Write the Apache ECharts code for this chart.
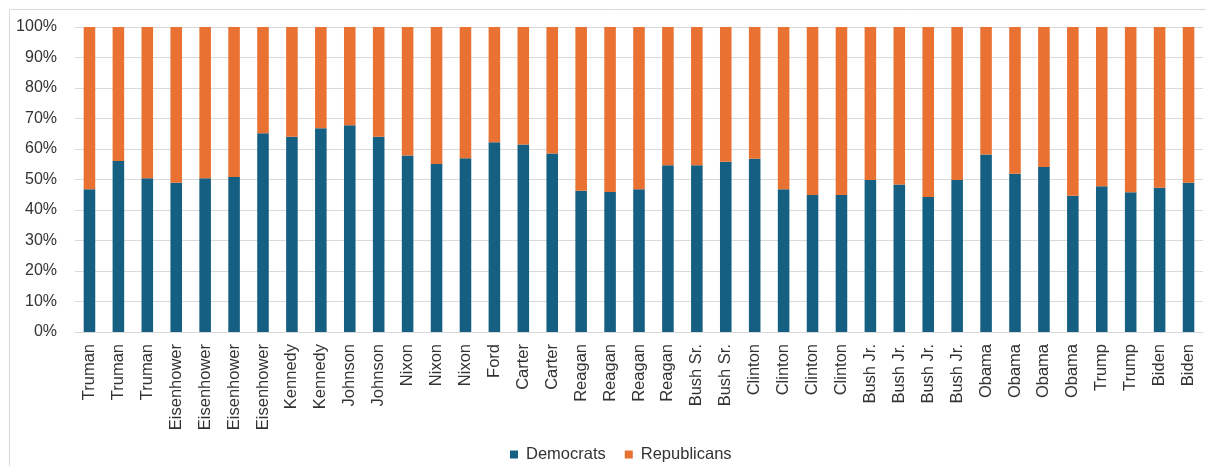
<!DOCTYPE html>
<html>
<head>
<meta charset="utf-8">
<script src="https://cdn.jsdelivr.net/npm/echarts@6/dist/echarts.min.js"></script>
<style>
html,body{margin:0;padding:0;background:#fff;}
#chart{width:1206px;height:466px;}
</style>
</head>
<body>
<div id="chart"></div>
<script>
const categories = ["Truman","Truman","Truman","Eisenhower","Eisenhower","Eisenhower","Eisenhower","Kennedy","Kennedy","Johnson","Johnson","Nixon","Nixon","Nixon","Ford","Carter","Carter","Reagan","Reagan","Reagan","Reagan","Bush Sr.","Bush Sr.","Clinton","Clinton","Clinton","Clinton","Bush Jr.","Bush Jr.","Bush Jr.","Bush Jr.","Obama","Obama","Obama","Obama","Trump","Trump","Biden","Biden"];
const democrats = [46.8,56.1,50.4,48.9,50.4,50.8,65.2,64.0,66.8,67.8,64.0,57.9,55.1,57.0,62.2,61.5,58.5,46.3,45.9,46.8,54.7,54.7,55.8,56.8,46.8,44.9,44.9,49.8,48.4,44.3,49.8,58.2,51.9,54.1,44.7,47.8,45.8,47.3,48.9];
const republicans = [53.2,43.9,49.6,51.1,49.6,49.2,34.8,36.0,33.2,32.2,36.0,42.1,44.9,43.0,37.8,38.5,41.5,53.7,54.1,53.2,45.3,45.3,44.2,43.2,53.2,55.1,55.1,50.2,51.6,55.7,50.2,41.8,48.1,45.9,55.3,52.2,54.2,52.7,51.1];
const yTicks = {min: 0, max: 100, interval: 10};

const chart = echarts.init(document.getElementById('chart'), null, {renderer: 'canvas'});
const font = '"Liberation Sans", Arial, sans-serif';
chart.setOption({
  animation: false,
  backgroundColor: '#fff',
  graphic: [{
    type: 'rect',
    shape: {x: 9.5, y: 9.5, width: 1220, height: 480},
    style: {fill: 'none', stroke: '#d9d9d9', lineWidth: 1},
    silent: true
  }],
  grid: {left: 75, right: 3, top: 27, bottom: 134, containLabel: false},
  legend: {
    top: 441,
    left: 505,
    icon: 'rect',
    itemWidth: 8,
    itemHeight: 8,
    itemGap: 19,
    textStyle: {fontFamily: font, fontSize: 16.5, color: '#333333', padding: [0, 0, 0, 3]},
    data: ['Democrats', 'Republicans']
  },
  xAxis: {
    type: 'category',
    data: categories,
    axisLine: {show: true, lineStyle: {color: '#d9d9d9', width: 1}},
    axisTick: {show: false},
    axisLabel: {
      interval: 0,
      rotate: 90,
      margin: 12,
      fontFamily: font,
      fontSize: 16.5,
      color: '#333333'
    }
  },
  yAxis: {
    type: 'value',
    min: yTicks.min,
    max: yTicks.max,
    interval: yTicks.interval,
    axisLine: {show: false},
    axisTick: {show: false},
    splitLine: {lineStyle: {color: '#d9d9d9', width: 1}},
    axisLabel: {
      formatter: '{value}%',
      margin: 18,
      fontFamily: font,
      fontSize: 16,
      color: '#333333'
    }
  },
  series: [
    {
      name: 'Democrats',
      type: 'bar',
      stack: 'total',
      barWidth: '40%',
      data: democrats,
      itemStyle: {color: '#156082'}
    },
    {
      name: 'Republicans',
      type: 'bar',
      stack: 'total',
      barWidth: '40%',
      data: republicans,
      itemStyle: {color: '#E97132'}
    }
  ]
});
</script>
</body>
</html>
